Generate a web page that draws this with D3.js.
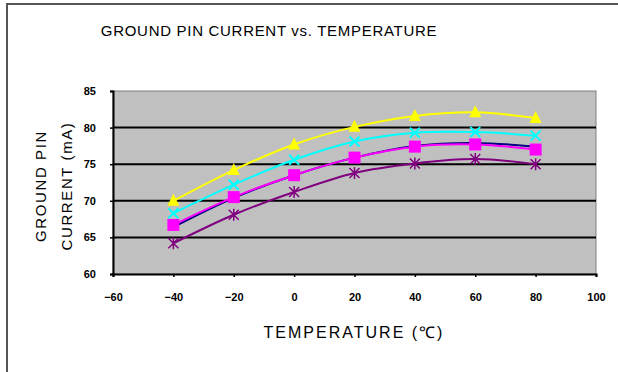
<!DOCTYPE html>
<html>
<head>
<meta charset="utf-8">
<script src="https://cdn.jsdelivr.net/npm/d3@7"></script>
<style>
  body { margin: 0; background: #fff; }
  text { font-family: "Liberation Sans", Arial, sans-serif; fill: #000; }
</style>
</head>
<body>
<script>
// chart data
var temps = [-40, -20, 0, 20, 40, 60, 80];
var yellowSeries  = [70.0, 74.2, 77.7, 80.1, 81.6, 82.1, 81.3];
var cyanSeries    = [68.3, 72.2, 75.6, 78.1, 79.3, 79.4, 78.9];
var navySeries    = [66.4, 70.4, 73.5, 75.9, 77.5, 77.9, 77.4];
var magentaSeries = [66.7, 70.5, 73.5, 75.9, 77.4, 77.7, 77.0];
var purpleSeries  = [64.2, 68.1, 71.2, 73.8, 75.1, 75.7, 75.0];
var xTicks = [-60, -40, -20, 0, 20, 40, 60, 80, 100];
var yTicks = [60, 65, 70, 75, 80, 85];

var width = 618, height = 372;
var plot = {left: 113, top: 91, right: 596, bottom: 274};

var svg = d3.select("body").append("svg")
    .attr("width", width)
    .attr("height", height);

// outer frame (runs off the right/bottom edges like the original)
svg.append("rect")
    .attr("x", 7).attr("y", 4)
    .attr("width", 640).attr("height", 400)
    .attr("fill", "#fff")
    .attr("stroke", "#555")
    .attr("stroke-width", 2);

var x = d3.scaleLinear().domain([-60, 100]).range([plot.left, plot.right]);
var y = d3.scaleLinear().domain([60, 85]).range([plot.bottom, plot.top]);

// plot background
svg.append("rect")
    .attr("x", plot.left).attr("y", plot.top)
    .attr("width", plot.right - plot.left)
    .attr("height", plot.bottom - plot.top)
    .attr("fill", "#c0c0c0")
    .attr("stroke", "#808080")
    .attr("stroke-width", 1);

// horizontal gridlines
svg.append("g")
    .selectAll("line")
    .data(yTicks.filter(function(d) { return d > 60 && d < 85; }))
    .enter().append("line")
    .attr("x1", plot.left).attr("x2", plot.right)
    .attr("y1", function(d) { return y(d); })
    .attr("y2", function(d) { return y(d); })
    .attr("stroke", "#000")
    .attr("stroke-width", 2);

// axes
var xAxis = svg.append("g")
    .attr("transform", "translate(0," + plot.bottom + ")")
    .call(d3.axisBottom(x).tickValues(xTicks).tickSize(3).tickPadding(16).tickFormat(d3.format("d")));
var yAxis = svg.append("g")
    .attr("transform", "translate(" + plot.left + ",0)")
    .call(d3.axisLeft(y).tickValues(yTicks).tickSize(3).tickPadding(14).tickFormat(d3.format("d")));

[xAxis, yAxis].forEach(function(ax) {
    ax.select(".domain").attr("stroke", "#000").attr("stroke-width", 2);
    ax.selectAll(".tick line").attr("stroke", "#000").attr("stroke-width", 1.5);
    ax.selectAll(".tick text")
        .style("font-family", "'Liberation Sans', Arial, sans-serif")
        .style("font-size", "11px")
        .style("font-weight", "bold");
});

// series
var series = [
    {name: "navy", color: "#000080", values: navySeries, marker: "diamond"},
    {name: "magenta", color: "#ff00ff", values: magentaSeries, marker: "square"},
    {name: "purple", color: "#800080", values: purpleSeries, marker: "asterisk"},
    {name: "cyan", color: "#00ffff", values: cyanSeries, marker: "cross"},
    {name: "yellow", color: "#ffff00", values: yellowSeries, marker: "triangle"}
];

var line = d3.line()
    .x(function(d) { return x(d.t); })
    .y(function(d) { return y(d.v); })
    .curve(d3.curveCardinal.tension(0));

series.forEach(function(s) {
    var pts = temps.map(function(t, i) { return {t: t, v: s.values[i]}; });
    var g = svg.append("g").attr("class", "series-" + s.name);

    g.append("path")
        .datum(pts)
        .attr("d", line)
        .attr("fill", "none")
        .attr("stroke", s.color)
        .attr("stroke-width", 2);

    var m = g.selectAll(".pt")
        .data(pts)
        .enter().append("g")
        .attr("class", "pt")
        .attr("transform", function(d) { return "translate(" + x(d.t) + "," + y(d.v) + ")"; });

    if (s.marker == "triangle") {
        m.append("path").attr("d", "M0,-7L6,5L-6,5Z").attr("fill", s.color);
    } else if (s.marker == "square") {
        m.append("rect").attr("x", -6).attr("y", -6).attr("width", 12).attr("height", 12).attr("fill", s.color);
    } else if (s.marker == "diamond") {
        m.append("path").attr("d", "M0,-3L3,0L0,3L-3,0Z").attr("fill", s.color);
    } else if (s.marker == "cross") {
        m.append("path").attr("d", "M-5,-5L5,5M5,-5L-5,5")
            .attr("stroke", s.color).attr("stroke-width", 2);
    } else {
        m.append("path").attr("d", "M-5,-5L5,5M5,-5L-5,5M0,-6L0,6")
            .attr("stroke", s.color).attr("stroke-width", 1.5);
    }
});

// titles
svg.append("text")
    .attr("x", 269).attr("y", 36)
    .attr("text-anchor", "middle")
    .style("font-size", "15px")
    .style("letter-spacing", "0.7px")
    .text("GROUND PIN CURRENT vs. TEMPERATURE");

svg.append("text")
    .attr("x", 354).attr("y", 338)
    .attr("text-anchor", "middle")
    .style("font-size", "16px")
    .style("letter-spacing", "2px")
    .text("TEMPERATURE (\u2103)");

var yTitle = svg.append("text")
    .attr("transform", "translate(46,186) rotate(-90)")
    .attr("text-anchor", "middle")
    .style("font-size", "15px")
    .style("letter-spacing", "1.6px");
yTitle.append("tspan").attr("x", 0).attr("y", 0).text("GROUND PIN");
yTitle.append("tspan").attr("x", 0).attr("y", 26).text("CURRENT (mA)");
</script>
</body>
</html>
